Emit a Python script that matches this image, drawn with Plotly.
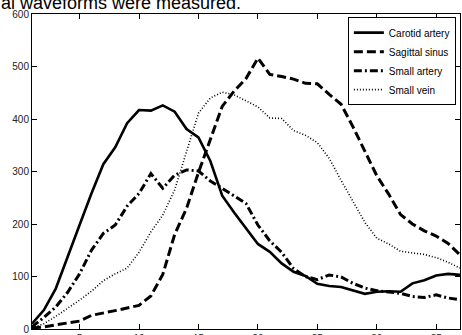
import plotly.graph_objects as go

x_vals = list(range(1, 38))

carotid_artery = [10, 36, 77, 136, 198, 258, 314, 346, 392, 417, 416, 426, 414, 381, 365, 320,
                  254, 222, 192, 162, 147, 125, 109, 101, 86, 82, 80, 74, 67, 71, 72, 71, 87,
                  93, 102, 105, 103]
sagittal_sinus = [2, 4, 8, 11, 15, 26, 30, 35, 40, 45, 63, 104, 180, 230, 298, 362, 424, 453,
                  477, 516, 485, 481, 476, 468, 467, 447, 428, 385, 338, 292, 257, 218, 200,
                  187, 177, 163, 141]
small_artery = [4, 22, 42, 70, 105, 150, 182, 198, 234, 258, 296, 268, 293, 303, 301, 282, 268,
                254, 239, 198, 168, 146, 115, 100, 94, 103, 99, 87, 78, 73, 71, 68, 62, 60, 65,
                59, 56]
small_vein = [2, 10, 24, 39, 55, 72, 92, 105, 116, 146, 185, 217, 265, 338, 411, 440, 451, 446,
              434, 423, 402, 401, 378, 369, 355, 325, 283, 243, 203, 173, 162, 148, 145, 142,
              136, 127, 116]

series_names = ["Carotid artery", "Sagittal sinus", "Small artery", "Small vein"]
x_ticks = [5, 10, 15, 20, 25, 30, 35]
y_ticks = [0, 100, 200, 300, 400, 500, 600]
caption_text = "al waveforms were measured."

styles = [
    dict(width=2.6, dash="solid"),
    dict(width=3, dash="9px,4px"),
    dict(width=3, dash="8px,3px,2px,3px"),
    dict(width=1.6, dash="1px,2px"),
]

fig = go.Figure()
for name, ys, st in zip(series_names, [carotid_artery, sagittal_sinus, small_artery, small_vein], styles):
    fig.add_trace(go.Scatter(x=x_vals, y=ys, mode="lines", name=name,
                             line=dict(color="black", **st)))

font_family = "Liberation Sans, Arial, sans-serif"
axis_common = dict(showgrid=False, zeroline=False, showline=True, linecolor="black",
                   linewidth=1, mirror="ticks", ticks="inside", ticklen=5,
                   tickcolor="black", tickwidth=1, automargin=False,
                   tickfont=dict(family=font_family, size=10, color="#222222"))

fig.update_layout(
    width=462, height=335,
    margin=dict(l=32, r=2, t=14, b=6),
    paper_bgcolor="white", plot_bgcolor="white",
    font=dict(family=font_family, color="black"),
    xaxis=dict(range=[1, 37], tickvals=x_ticks, **axis_common),
    yaxis=dict(range=[0, 600], tickvals=y_ticks, **axis_common),
    legend=dict(x=0.738, y=0.99, xanchor="left", yanchor="top",
                bgcolor="white", bordercolor="black", borderwidth=1,
                font=dict(family=font_family, size=10, color="black"),
                itemwidth=30, tracegroupgap=0),
    showlegend=True,
)

fig.add_annotation(text=caption_text, xref="paper", yref="paper",
                   x=-0.078, y=1.035, xanchor="left", yanchor="middle",
                   showarrow=False, font=dict(family=font_family, size=18, color="black"))

fig.write_html("out.html", config={"displayModeBar": False},
               post_script="document.body.style.margin='0';")
